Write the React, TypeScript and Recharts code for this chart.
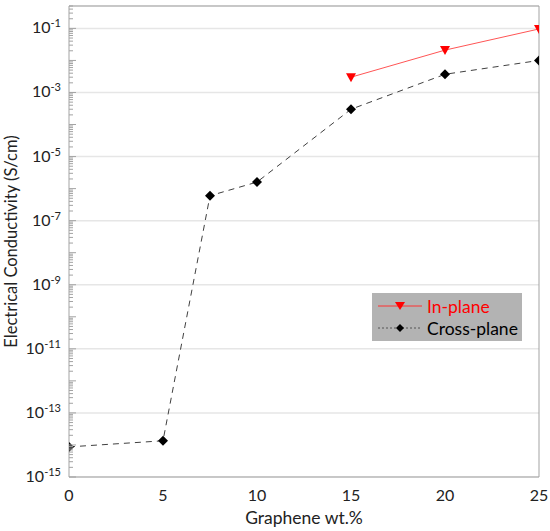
import React from "react";
import {
  LineChart,
  Line,
  XAxis,
  YAxis,
  CartesianGrid,
  Legend,
} from "recharts";

// graphene loading (wt.%) and measured conductivity (S/cm)
const crossPlaneWt = [0, 5, 7.5, 10, 15, 20, 25];
const crossPlaneSigma = [8.7e-15, 1.35e-14, 6.0e-7, 1.6e-6, 3.0e-4, 3.7e-3, 1.0e-2];
const inPlaneWt = [15, 20, 25];
const inPlaneSigma = [3.0e-3, 2.1e-2, 9.6e-2];

const xLabelTicks = [0, 5, 10, 15, 20, 25];
const xMinorTicks = [2.5, 7.5, 12.5, 17.5, 22.5];
const yLabelTicks = [1e-15, 1e-13, 1e-11, 1e-9, 1e-7, 1e-5, 1e-3, 1e-1];
const yDecadeTicks = [
  1e-15, 1e-14, 1e-13, 1e-12, 1e-11, 1e-10, 1e-9, 1e-8,
  1e-7, 1e-6, 1e-5, 1e-4, 1e-3, 1e-2, 1e-1,
];
const yMinorTicks = yDecadeTicks
  .flatMap((d) => [2, 3, 4, 5, 6, 7, 8, 9].map((m) => m * d))
  .filter((v) => v <= 0.5);

const xAllTicks = [...xLabelTicks, ...xMinorTicks].sort((a, b) => a - b);
const yAllTicks = [...yDecadeTicks, ...yMinorTicks].sort((a, b) => a - b);

const crossPlane = crossPlaneWt.map((wt, i) => ({ wt, sigma: crossPlaneSigma[i] }));
const inPlane = inPlaneWt.map((wt, i) => ({ wt, sigma: inPlaneSigma[i] }));

const FONT = "Lato, 'Open Sans', sans-serif";
const TEXT = "#222222";
const FRAME = "#a3a3a3";
const Y_DOMAIN = [1e-15, 0.5];
const X_DOMAIN = [0, 25];

// inward tick marks, long on major values and short on minor ones
const InTick = ({ x, y, payload, dir, majors, long, short }: any) => {
  const len = majors.includes(payload.value) ? long : short;
  const [dx, dy] = dir;
  return <line x1={x} y1={y} x2={x + dx * len} y2={y + dy * len} stroke={FRAME} strokeWidth={1} />;
};

const Triangle = ({ cx, cy }: any) =>
  cx == null ? null : (
    <polygon
      points={`${cx - 5},${cy - 4} ${cx + 5},${cy - 4} ${cx},${cy + 5}`}
      fill="#ff0000"
    />
  );

const Diamond = ({ cx, cy }: any) =>
  cx == null ? null : (
    <polygon
      points={`${cx},${cy - 5} ${cx + 5},${cy} ${cx},${cy + 5} ${cx - 5},${cy}`}
      fill="#000000"
    />
  );

const YTick = ({ x, y, payload }: any) => {
  const exp = Math.round(Math.log10(payload.value));
  return (
    <text x={x} y={y} textAnchor="end" fill={TEXT} fontFamily={FONT}>
      <tspan fontSize={16} dy={5}>10</tspan>
      <tspan fontSize={11} dy={-6}>{exp}</tspan>
    </text>
  );
};

const XTick = ({ x, y, payload }: any) => (
  <text x={x} y={y} dy={11} textAnchor="middle" fill={TEXT} fontFamily={FONT} fontSize={16}>
    {payload.value}
  </text>
);

const YTitle = ({ viewBox }: any) => {
  const cx = viewBox.x + 17;
  const cy = viewBox.y + viewBox.height / 2;
  return (
    <text
      x={cx}
      y={cy}
      transform={`rotate(-90 ${cx} ${cy})`}
      textAnchor="middle"
      fill={TEXT}
      fontFamily={FONT}
      fontSize={16.5}
    >
      Electrical Conductivity (S/cm)
    </text>
  );
};

const XTitle = ({ viewBox }: any) => (
  <text
    x={viewBox.x + viewBox.width / 2}
    y={viewBox.y + 47}
    textAnchor="middle"
    fill={TEXT}
    fontFamily={FONT}
    fontSize={17.5}
  >
    Graphene wt.%
  </text>
);

const legendRows = [
  { name: "In-plane", color: "#ff0000", line: "#ff3030", dash: undefined, marker: "tri" },
  { name: "Cross-plane", color: "#000000", line: "#555555", dash: "2 2", marker: "dia" },
];

const LegendBox = () => (
  <div
    style={{
      background: "#b3b3b3",
      width: 150,
      height: 48,
      boxSizing: "border-box",
      paddingTop: 2,
      paddingLeft: 5,
      fontFamily: FONT,
      fontSize: 17.5,
    }}
  >
    {legendRows.map((r) => (
      <div key={r.name} style={{ display: "flex", alignItems: "center", height: 22 }}>
        <svg width={46} height={14}>
          <line x1={1} y1={7} x2={45} y2={7} stroke={r.line} strokeDasharray={r.dash} />
          {r.marker === "tri" ? (
            <polygon points="18,3 28,3 23,11" fill={r.color} />
          ) : (
            <polygon points="23,3 27,7 23,11 19,7" fill={r.color} />
          )}
        </svg>
        <span style={{ color: r.color, marginLeft: 4 }}>{r.name}</span>
      </div>
    ))}
  </div>
);

export default function App() {
  return (
    <div style={{ position: "absolute", left: 0, top: 0 }}>
      <LineChart
        width={550}
        height={531}
        margin={{ top: 6, right: 11, bottom: 0, left: 0 }}
      >
        <CartesianGrid
          xAxisId="x"
          yAxisId="y"
          vertical={false}
          stroke="#e6e6e6"
          strokeWidth={1.5}
        />
        <XAxis
          xAxisId="x"
          dataKey="wt"
          type="number"
          domain={X_DOMAIN}
          ticks={xLabelTicks}
          allowDataOverflow
          height={54}
          tickSize={0}
          tickMargin={13}
          tickLine={false}
          axisLine={{ stroke: FRAME }}
          tick={<XTick />}
          label={<XTitle />}
        />
        <XAxis
          xAxisId="xb"
          type="number"
          domain={X_DOMAIN}
          ticks={xAllTicks}
          allowDataOverflow
          mirror
          height={1}
          tickSize={0}
          tickMargin={0}
          tickLine={false}
          axisLine={false}
          tick={<InTick dir={[0, -1]} majors={xLabelTicks} long={8} short={4} />}
        />
        <XAxis
          xAxisId="xt"
          orientation="top"
          type="number"
          domain={X_DOMAIN}
          ticks={xAllTicks}
          allowDataOverflow
          mirror
          height={1}
          tickSize={0}
          tickMargin={0}
          tickLine={false}
          axisLine={{ stroke: FRAME }}
          tick={<InTick dir={[0, 1]} majors={xLabelTicks} long={8} short={5} />}
        />
        <YAxis
          yAxisId="y"
          dataKey="sigma"
          scale="log"
          type="number"
          domain={Y_DOMAIN}
          ticks={yLabelTicks}
          allowDataOverflow
          width={69}
          tickSize={0}
          tickMargin={8}
          tickLine={false}
          axisLine={{ stroke: FRAME }}
          tick={<YTick />}
          label={<YTitle />}
        />
        <YAxis
          yAxisId="yl"
          scale="log"
          type="number"
          domain={Y_DOMAIN}
          ticks={yAllTicks}
          allowDataOverflow
          mirror
          width={1}
          tickSize={0}
          tickMargin={0}
          tickLine={false}
          axisLine={false}
          interval={0}
          tick={<InTick dir={[1, 0]} majors={yDecadeTicks} long={7} short={4} />}
        />
        <YAxis
          yAxisId="yr"
          orientation="right"
          scale="log"
          type="number"
          domain={Y_DOMAIN}
          allowDataOverflow
          mirror
          width={1}
          tick={false}
          tickLine={false}
          axisLine={{ stroke: FRAME }}
        />
        <Line
          xAxisId="x"
          yAxisId="y"
          data={crossPlane}
          dataKey="sigma"
          name="Cross-plane"
          type="linear"
          stroke="#404040"
          strokeWidth={1}
          strokeDasharray="6 5"
          dot={<Diamond />}
          activeDot={false}
          isAnimationActive={false}
        />
        <Line
          xAxisId="x"
          yAxisId="y"
          data={inPlane}
          dataKey="sigma"
          name="In-plane"
          type="linear"
          stroke="#ff5555"
          strokeWidth={1}
          dot={<Triangle />}
          activeDot={false}
          isAnimationActive={false}
        />
        <Legend
          layout="horizontal"
          verticalAlign="middle"
          align="center"
          content={<LegendBox />}
          wrapperStyle={{ left: 372, top: 293, width: 150, height: 48 }}
        />
      </LineChart>
    </div>
  );
}
